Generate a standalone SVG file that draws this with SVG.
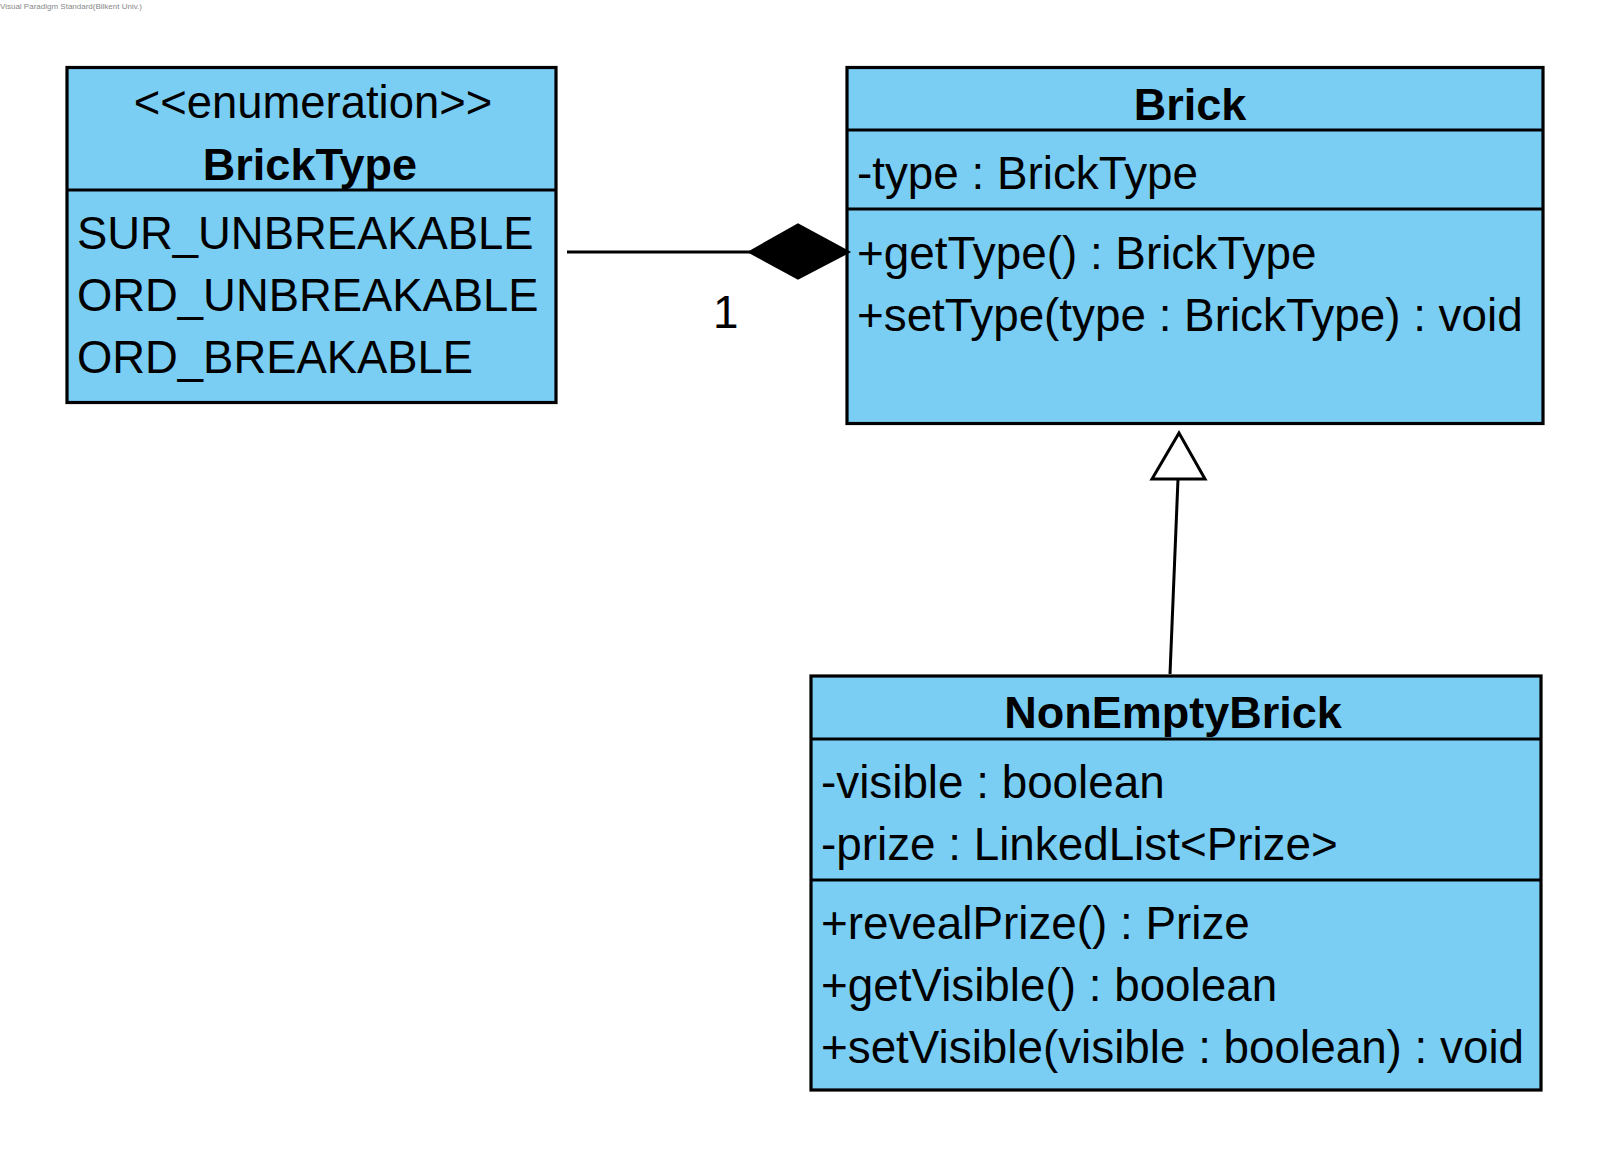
<svg xmlns="http://www.w3.org/2000/svg" width="1611" height="1158" viewBox="0 0 1611 1158">
<style>
.box{fill:#7ACEF4;stroke:#000;stroke-width:3.2}
.div{stroke:#000;stroke-width:3.2}
.t{font-family:"Liberation Sans",Arial,sans-serif;font-size:45.8px;fill:#000}
.e{font-size:45.4px}
.b{font-weight:bold;text-anchor:middle;font-size:45px}
.c{text-anchor:middle}
.conn{stroke:#000;stroke-width:3;fill:none}
</style>
<rect width="1611" height="1158" fill="#fff"/>
<text x="0" y="9" font-family="'Liberation Sans',Arial,sans-serif" font-size="8" fill="#888" textLength="142" lengthAdjust="spacingAndGlyphs">Visual Paradigm Standard(Bilkent Univ.)</text>
<g id="BrickType">
<rect class="box" x="67" y="67.5" width="489" height="335"/>
<line class="div" x1="67" y1="190" x2="556" y2="190"/>
<text class="t e c" x="313" y="118">&lt;&lt;enumeration&gt;&gt;</text>
<text class="t b" x="310" y="180">BrickType</text>
<text class="t e" x="77" y="249">SUR_UNBREAKABLE</text>
<text class="t e" x="77" y="311">ORD_UNBREAKABLE</text>
<text class="t e" x="77" y="373">ORD_BREAKABLE</text>
</g>
<g id="Brick">
<rect class="box" x="847" y="67.5" width="696" height="356"/>
<line class="div" x1="847" y1="130" x2="1543" y2="130"/>
<line class="div" x1="847" y1="209" x2="1543" y2="209"/>
<text class="t b" x="1190" y="120">Brick</text>
<text class="t" x="857" y="189">-type : BrickType</text>
<text class="t" x="857" y="269">+getType() : BrickType</text>
<text class="t" x="857" y="331">+setType(type : BrickType) : void</text>
</g>
<g id="NonEmptyBrick">
<rect class="box" x="811" y="676" width="730" height="414"/>
<line class="div" x1="811" y1="739" x2="1541" y2="739"/>
<line class="div" x1="811" y1="880" x2="1541" y2="880"/>
<text class="t b" x="1173" y="728">NonEmptyBrick</text>
<text class="t" x="821" y="798">-visible : boolean</text>
<text class="t" x="821" y="860">-prize : LinkedList&lt;Prize&gt;</text>
<text class="t" x="821" y="939">+revealPrize() : Prize</text>
<text class="t" x="821" y="1001">+getVisible() : boolean</text>
<text class="t" x="821" y="1063">+setVisible(visible : boolean) : void</text>
</g>
<g id="connectors">
<line class="conn" x1="567" y1="252" x2="750" y2="252"/>
<polygon points="749,252 798,224.5 849,252 798,278.5" fill="#000" stroke="#000" stroke-width="2" stroke-linejoin="miter"/>
<text class="t" x="713" y="328">1</text>
<line class="conn" x1="1170" y1="674" x2="1178" y2="479"/>
<polygon points="1179,433 1152,479 1205,479" fill="#fff" stroke="#000" stroke-width="3" stroke-linejoin="miter"/>
</g>
</svg>
